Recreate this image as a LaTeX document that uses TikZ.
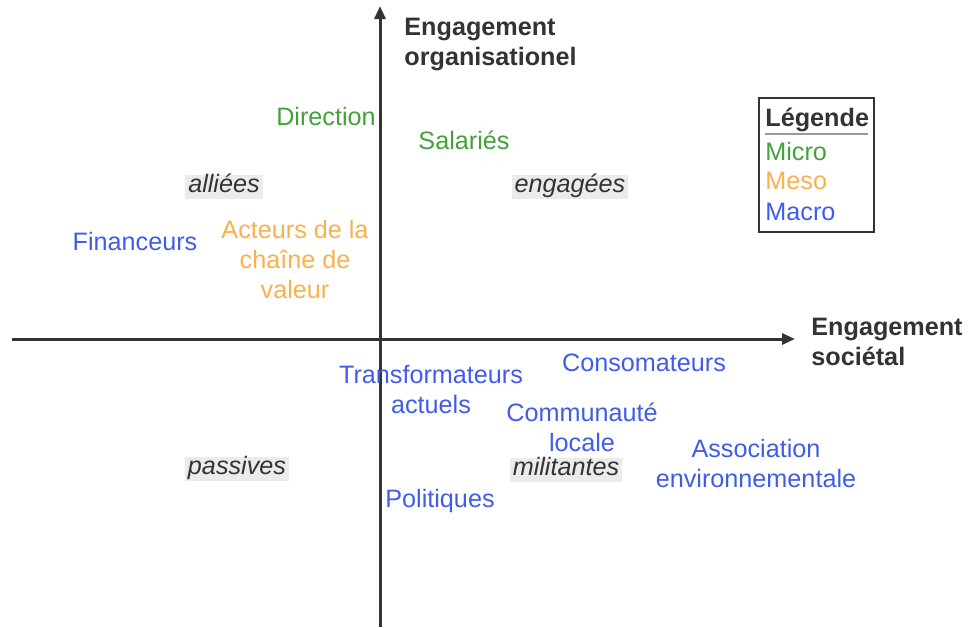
\documentclass[tikz,border=0pt]{standalone}
\usepackage{fontspec}
\setmainfont{Liberation Sans}
\usepackage{xcolor}
\usetikzlibrary{arrows.meta,positioning}
\definecolor{micro}{RGB}{67,160,58}
\definecolor{meso}{RGB}{250,176,76}
\definecolor{macro}{RGB}{64,92,232}
\definecolor{ink}{RGB}{51,51,51}
\tikzset{
  lbl/.style={align=center, inner sep=0pt, font=\fontsize{12.6}{15}\selectfont},
  axlbl/.style={align=left, anchor=west, inner sep=0pt, text=ink,
                font=\fontsize{12.6}{15}\selectfont\bfseries},
  quad/.style={fill=black!8, text=ink, inner sep=1.5pt, text depth=0.2em,
               text height=0.7em, font=\fontsize{12.6}{15}\selectfont\itshape},
  legitem/.style={anchor=west, inner sep=0pt, font=\fontsize{12.6}{15}\selectfont},
  axis/.style={-{Triangle[length=6.5pt, width=5.5pt]}, line width=1.5pt, draw=ink}
}

\begin{document}
\begin{tikzpicture}[x=0.5pt, y=-0.5pt]
  \useasboundingbox (0,0) rectangle (969,627);
  % axes
  \coordinate (ybot) at (380,627);
  \coordinate (ytop) at (380,6);
  \coordinate (xlft) at (12,339);
  \coordinate (xrgt) at (795,339);
  \draw[axis] (ybot) -- (ytop);
  \draw[axis] (xlft) -- (xrgt);
  \node[axlbl] (orga) at (404,44) {Engagement\\organisationel};
  \node[axlbl] (soc) at (811,342) {Engagement\\sociétal};
  % quadrants
  \node[quad] (allie) at (224,187) {alliées};
  \node[quad] (engag) at (570,187) {engagées};
  \node[quad] (passi) at (237,469) {passives};
  \node[quad] (milit) at (566,470) {militantes};
  % micro
  \node[lbl, text=micro] (dir) at (326,116) {Direction};
  \node[lbl, text=micro] (sal) at (464,140) {Salariés};
  % meso
  \node[lbl, text=meso] (chaine) at (295,259) {Acteurs de la\\chaîne de\\valeur};
  % macro
  \node[lbl, text=macro] (fin) at (135,241) {Financeurs};
  \node[lbl, text=macro] (conso) at (644,363) {Consomateurs};
  \node[lbl, text=macro] (transf) at (431,389) {Transformateurs\\actuels};
  \node[lbl, text=macro] (commu) at (582,427) {Communauté\\locale};
  \node[lbl, text=macro] (assoc) at (756,463) {Association\\environnementale};
  \node[lbl, text=macro] (poli) at (440,501) {Politiques};
  % legend
  \node[draw=ink, line width=0.8pt, minimum width=57.5pt, minimum height=67pt] (leg) at (816.5,165) {};
  \node[legitem, text=ink, font=\fontsize{12.6}{15}\selectfont\bfseries] (legt) at (765,120) {Légende};
  \node[legitem, text=micro] (lmic) at (765,151) {Micro};
  \node[legitem, text=meso] (lmes) at (765,181) {Meso};
  \node[legitem, text=macro] (lmac) at (765,212) {Macro};
  \coordinate (ulft) at (765,134);
  \coordinate (urgt) at (868,134);
  \draw[black!40, line width=0.8pt] (ulft) -- (urgt);
\end{tikzpicture}
\end{document}
